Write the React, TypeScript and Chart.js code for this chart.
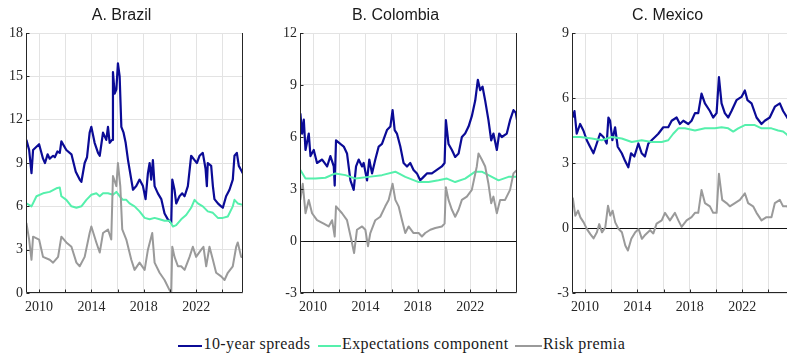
import React, { useEffect, useRef } from 'react';
import { Chart, registerables } from 'chart.js';
Chart.register(...registerables);

// ---------- shared axis data ----------
const xMin = 2009.0;
const xMax = 2025.57;
const xGridYears = [2010, 2012, 2014, 2016, 2018, 2020, 2022, 2024];
const xLabelYears = [2010, 2014, 2018, 2022];
const legendLabels = ['10-year spreads', 'Expectations component', 'Risk premia'];
const seriesColors = ['#0b0b96', '#55f0ac', '#9a9a9a'];

// ---------- A. Brazil ----------
const brYTicks = [0, 3, 6, 9, 12, 15, 18];
const brSpread = [
  [2009.03, 10.6], [2009.24, 9.9], [2009.42, 8.3], [2009.54, 9.9], [2010.0, 10.3], [2010.15, 9.8],
  [2010.3, 9.3], [2010.45, 9.0], [2010.65, 9.6], [2010.81, 9.3], [2011.07, 9.5], [2011.2, 9.4],
  [2011.4, 9.8], [2011.58, 9.7], [2011.7, 10.5], [2012.08, 9.9], [2012.47, 9.6], [2012.8, 8.4],
  [2013.1, 7.85], [2013.23, 7.7], [2013.48, 9.0], [2013.66, 9.4], [2013.86, 11.1], [2013.99, 11.5],
  [2014.24, 10.4], [2014.5, 9.7], [2014.63, 9.5], [2014.88, 11.1], [2015.13, 10.6], [2015.26, 11.5],
  [2015.39, 10.4], [2015.57, 10.6], [2015.64, 15.3], [2015.77, 13.8], [2015.9, 14.1], [2016.02, 15.9],
  [2016.15, 15.0], [2016.28, 11.5], [2016.45, 11.1], [2016.61, 10.4], [2016.79, 9.2], [2017.04, 7.85],
  [2017.17, 7.15], [2017.42, 7.4], [2017.67, 7.85], [2017.93, 7.4], [2018.13, 6.5], [2018.31, 8.3],
  [2018.44, 9.0], [2018.56, 7.85], [2018.69, 9.2], [2018.82, 7.4], [2019.07, 6.9], [2019.33, 6.5],
  [2019.58, 5.5], [2019.83, 5.1], [2020.09, 4.85], [2020.17, 7.85], [2020.34, 7.15], [2020.47, 6.2],
  [2020.72, 6.7], [2020.93, 6.9], [2021.11, 6.7], [2021.36, 7.4], [2021.61, 9.5], [2021.87, 9.2],
  [2022.05, 9.0], [2022.25, 9.5], [2022.5, 9.7], [2022.71, 8.6], [2022.81, 7.4], [2022.88, 9.0],
  [2023.14, 8.8], [2023.27, 7.4], [2023.39, 6.5], [2023.65, 6.2], [2023.9, 6.0], [2024.03, 5.9],
  [2024.28, 6.7], [2024.54, 7.15], [2024.79, 7.85], [2024.92, 9.5], [2025.1, 9.7], [2025.25, 8.8],
  [2025.43, 8.5], [2025.55, 8.3],
];
const brExpect = [
  [2009.03, 6.2], [2009.42, 6.0], [2009.8, 6.7], [2010.3, 6.9], [2010.81, 7.0], [2011.32, 7.25],
  [2011.58, 7.3], [2011.7, 6.7], [2012.08, 6.45], [2012.47, 6.0], [2012.85, 5.9], [2013.23, 6.0],
  [2013.61, 6.45], [2013.99, 6.8], [2014.37, 6.9], [2014.63, 6.7], [2014.88, 6.9], [2015.26, 6.9],
  [2015.64, 6.8], [2015.9, 7.0], [2016.15, 6.7], [2016.4, 6.45], [2016.66, 6.45], [2016.91, 6.2],
  [2017.29, 6.0], [2017.67, 5.65], [2018.06, 5.2], [2018.44, 5.1], [2018.82, 5.2], [2019.2, 5.1],
  [2019.58, 5.0], [2019.96, 5.0], [2020.22, 4.6], [2020.47, 4.7], [2020.85, 5.1], [2021.23, 5.4],
  [2021.61, 5.9], [2021.87, 6.45], [2022.12, 6.2], [2022.5, 6.0], [2022.88, 5.65], [2023.27, 5.55],
  [2023.65, 5.2], [2024.03, 5.2], [2024.41, 5.3], [2024.79, 6.0], [2024.92, 6.45], [2025.17, 6.2],
  [2025.55, 6.1],
];
const brRisk = [
  [2009.03, 4.85], [2009.24, 3.7], [2009.42, 2.3], [2009.54, 3.9], [2010.0, 3.7], [2010.3, 2.5],
  [2010.81, 2.3], [2011.07, 2.1], [2011.45, 2.5], [2011.7, 3.9], [2012.08, 3.5], [2012.47, 3.2],
  [2012.85, 2.1], [2013.1, 1.85], [2013.48, 2.5], [2013.86, 4.15], [2013.99, 4.6], [2014.37, 3.5],
  [2014.63, 2.8], [2014.88, 4.15], [2015.26, 4.4], [2015.51, 3.7], [2015.64, 8.1], [2015.9, 7.4],
  [2016.02, 9.0], [2016.2, 7.4], [2016.35, 4.4], [2016.66, 3.7], [2017.04, 2.3], [2017.29, 1.6],
  [2017.67, 2.1], [2018.06, 1.6], [2018.31, 3.0], [2018.64, 4.15], [2018.82, 2.1], [2019.2, 1.4],
  [2019.58, 0.9], [2019.96, 0.2], [2020.09, 0.0], [2020.17, 3.2], [2020.34, 2.5], [2020.6, 1.85],
  [2020.85, 1.85], [2021.11, 1.6], [2021.49, 2.5], [2021.74, 3.2], [2021.99, 2.5], [2022.38, 3.0],
  [2022.55, 3.2], [2022.76, 1.85], [2023.01, 3.2], [2023.27, 2.3], [2023.52, 1.4], [2023.9, 1.15],
  [2024.16, 0.9], [2024.41, 1.4], [2024.79, 1.85], [2025.05, 3.2], [2025.17, 3.5], [2025.43, 2.5],
  [2025.55, 2.5],
];

// ---------- B. Colombia ----------
const coYTicks = [-3, 0, 3, 6, 9, 12];
const coSpread = [
  [2009.03, 7.36], [2009.16, 6.2], [2009.29, 7.0], [2009.42, 5.25], [2009.67, 6.2], [2009.8, 4.9],
  [2010.05, 5.25], [2010.3, 4.5], [2010.69, 4.7], [2011.07, 4.3], [2011.32, 4.9], [2011.58, 4.3],
  [2011.65, 3.2], [2011.75, 5.8], [2012.08, 5.6], [2012.34, 5.45], [2012.59, 5.05], [2012.85, 3.5],
  [2013.1, 2.95], [2013.28, 4.3], [2013.48, 4.7], [2013.74, 4.3], [2013.86, 4.5], [2014.12, 3.5],
  [2014.29, 4.7], [2014.5, 3.9], [2014.75, 4.7], [2015.01, 5.45], [2015.26, 5.6], [2015.64, 6.4],
  [2015.9, 6.6], [2016.07, 7.55], [2016.23, 6.4], [2016.4, 6.2], [2016.66, 5.45], [2016.91, 4.5],
  [2017.17, 4.3], [2017.42, 4.5], [2017.67, 4.1], [2017.93, 3.9], [2018.18, 3.5], [2018.44, 3.7],
  [2018.69, 3.9], [2019.07, 3.9], [2019.45, 4.1], [2019.83, 4.3], [2020.04, 4.5], [2020.14, 6.97],
  [2020.34, 5.6], [2020.6, 5.25], [2020.85, 4.85], [2021.11, 5.05], [2021.36, 6.0], [2021.61, 6.2],
  [2021.87, 6.6], [2022.12, 7.2], [2022.38, 8.1], [2022.58, 9.3], [2022.76, 8.7], [2022.94, 8.9],
  [2023.14, 8.1], [2023.39, 6.97], [2023.6, 5.8], [2023.77, 6.2], [2024.03, 5.25], [2024.21, 6.2],
  [2024.41, 6.0], [2024.79, 6.2], [2025.04, 6.97], [2025.3, 7.55], [2025.48, 7.4], [2025.57, 6.97],
];
const coExpect = [
  [2009.03, 4.1], [2009.42, 3.6], [2010.18, 3.6], [2010.94, 3.65], [2011.7, 3.9], [2012.47, 3.8],
  [2013.23, 3.6], [2014.24, 3.7], [2015.26, 3.8], [2016.28, 4.0], [2017.04, 3.7], [2018.06, 3.4],
  [2018.82, 3.4], [2019.58, 3.5], [2020.22, 3.6], [2020.85, 3.4], [2021.61, 3.6], [2022.38, 4.0],
  [2022.88, 4.0], [2023.65, 3.7], [2024.16, 3.5], [2024.92, 3.7], [2025.57, 3.7],
];
const coRisk = [
  [2009.03, 2.37], [2009.21, 3.3], [2009.42, 1.6], [2009.67, 2.37], [2009.92, 1.6], [2010.3, 1.2],
  [2010.81, 1.0], [2011.19, 0.84], [2011.45, 1.2], [2011.65, 0.26], [2011.75, 2.0], [2012.21, 1.6],
  [2012.59, 1.2], [2012.92, 0.07], [2013.13, -0.7], [2013.35, 0.65], [2013.74, 0.84], [2013.99, 0.65],
  [2014.19, -0.3], [2014.37, 0.46], [2014.75, 1.2], [2015.13, 1.4], [2015.51, 2.0], [2015.77, 2.37],
  [2016.07, 3.3], [2016.28, 2.37], [2016.53, 2.0], [2016.79, 1.2], [2017.04, 0.46], [2017.29, 0.84],
  [2017.67, 0.46], [2018.06, 0.46], [2018.31, 0.26], [2018.56, 0.46], [2018.95, 0.65], [2019.33, 0.75],
  [2019.83, 0.84], [2020.04, 1.0], [2020.14, 3.1], [2020.34, 2.37], [2020.6, 1.8], [2020.85, 1.4],
  [2021.11, 1.8], [2021.36, 2.37], [2021.74, 2.56], [2022.12, 2.95], [2022.5, 4.3], [2022.63, 5.05],
  [2022.88, 4.7], [2023.14, 4.3], [2023.39, 3.3], [2023.6, 2.18], [2023.77, 2.56], [2024.03, 1.6],
  [2024.28, 2.37], [2024.66, 2.37], [2025.04, 2.95], [2025.3, 3.9], [2025.57, 4.1],
];

// ---------- C. Mexico ----------
const mxYTicks = [-3, 0, 3, 6, 9];
const mxSpread = [
  [2009.06, 5.1], [2009.19, 5.4], [2009.36, 4.35], [2009.62, 4.8], [2009.87, 4.5], [2010.13, 4.05],
  [2010.38, 3.75], [2010.64, 3.45], [2010.89, 3.9], [2011.14, 4.35], [2011.4, 4.2], [2011.65, 3.9],
  [2011.78, 5.1], [2011.91, 4.95], [2012.08, 4.05], [2012.29, 4.65], [2012.49, 3.75], [2012.8, 3.45],
  [2013.05, 3.1], [2013.3, 2.8], [2013.51, 3.45], [2013.76, 3.3], [2014.07, 3.9], [2014.32, 3.45],
  [2014.57, 3.3], [2014.83, 3.9], [2015.08, 4.05], [2015.34, 4.2], [2015.59, 4.35], [2015.97, 4.65],
  [2016.35, 4.65], [2016.61, 4.95], [2016.99, 5.1], [2017.24, 4.8], [2017.5, 4.95], [2017.88, 4.8],
  [2018.13, 4.95], [2018.39, 5.3], [2018.64, 5.3], [2018.89, 6.2], [2019.15, 5.75], [2019.53, 5.4],
  [2019.78, 5.1], [2020.04, 5.3], [2020.22, 6.96], [2020.42, 5.75], [2020.67, 5.3], [2020.93, 5.1],
  [2021.18, 5.4], [2021.56, 5.9], [2021.94, 6.05], [2022.2, 6.35], [2022.4, 5.9], [2022.71, 5.75],
  [2023.09, 5.1], [2023.47, 4.8], [2023.72, 4.95], [2024.1, 5.1], [2024.49, 5.6], [2024.87, 5.75],
  [2025.12, 5.4], [2025.43, 5.1], [2025.55, 5.0],
];
const mxExpect = [
  [2009.06, 4.2], [2009.62, 4.2], [2010.51, 4.13], [2011.27, 4.05], [2012.03, 4.2], [2012.8, 4.13],
  [2013.56, 3.97], [2014.32, 4.05], [2015.08, 3.97], [2015.85, 3.97], [2016.35, 4.05], [2016.73, 4.35],
  [2017.12, 4.6], [2017.62, 4.6], [2018.39, 4.5], [2019.15, 4.6], [2019.91, 4.6], [2020.42, 4.65],
  [2020.93, 4.6], [2021.31, 4.45], [2021.69, 4.6], [2022.2, 4.75], [2022.96, 4.75], [2023.47, 4.6],
  [2024.23, 4.6], [2024.74, 4.5], [2025.12, 4.45], [2025.43, 4.3], [2025.55, 4.2],
];
const mxRisk = [
  [2009.06, 1.4], [2009.25, 0.57], [2009.46, 0.8], [2009.64, 0.49], [2009.89, 0.26], [2010.14, -0.05],
  [2010.4, -0.28], [2010.65, -0.48], [2010.9, -0.2], [2011.08, 0.18], [2011.29, -0.2], [2011.54, 0.03],
  [2011.75, 1.03], [2011.92, 0.57], [2012.1, 0.8], [2012.3, 0.26], [2012.56, -0.05], [2012.81, -0.2],
  [2013.07, -0.81], [2013.27, -1.04], [2013.53, -0.5], [2013.83, -0.2], [2014.09, -0.05], [2014.34, -0.5],
  [2014.54, -0.35], [2014.96, -0.1], [2015.21, -0.25], [2015.46, 0.2], [2015.85, 0.35],
  [2016.1, 0.7], [2016.48, 0.35], [2016.86, 0.7], [2017.12, 0.35], [2017.37, 0.05], [2017.75, 0.35],
  [2018.13, 0.5], [2018.39, 0.7], [2018.64, 0.7], [2018.89, 1.75], [2019.15, 1.15], [2019.53, 1.0],
  [2019.78, 0.7], [2020.04, 0.7], [2020.22, 2.5], [2020.47, 1.3], [2020.8, 1.15], [2021.05, 1.0],
  [2021.44, 1.15], [2021.82, 1.3], [2022.2, 1.6], [2022.45, 1.15], [2022.83, 1.0], [2023.09, 0.7],
  [2023.47, 0.35], [2023.85, 0.5], [2024.23, 0.5], [2024.49, 1.15], [2024.87, 1.3], [2025.12, 1.0],
  [2025.43, 1.0], [2025.55, 0.9],
];

const panelTitles = ['A. Brazil', 'B. Colombia', 'C. Mexico'];

// ---------- layout constants ----------
const Y_AXIS_W = 26;
const PAD_R = 26;
const PLOT_W = 217;
const CANVAS_W = Y_AXIS_W + PLOT_W + PAD_R;
const CANVAS_H = 320;
const X_AXIS_H = 27;
const panelLefts = [0, 274, 546];

const toXY = (pts: number[][]) => pts.map((p) => ({ x: p[0], y: p[1] }));

const framePlugin = {
  id: 'frame',
  beforeDatasetsDraw(chart: any, _a: any, opts: any) {
    const { ctx, chartArea } = chart;
    if (opts && opts.zeroLine) {
      const y = Math.round(chart.scales.y.getPixelForValue(0)) + 0.5;
      ctx.save();
      ctx.strokeStyle = '#111111';
      ctx.lineWidth = 1;
      ctx.beginPath();
      ctx.moveTo(chartArea.left, y);
      ctx.lineTo(chartArea.right, y);
      ctx.stroke();
      ctx.restore();
    }
  },
  afterDatasetsDraw(chart: any, _a: any, opts: any) {
    const { ctx, chartArea } = chart;
    const { left, right, top, bottom } = chartArea;
    ctx.save();
    ctx.strokeStyle = '#262626';
    ctx.lineWidth = 1;
    const L = Math.round(left) + 0.5;
    const R = Math.round(right) - 0.5;
    const B = Math.round(bottom) - 0.5;
    ctx.beginPath();
    ctx.moveTo(L, Math.round(top));
    ctx.lineTo(L, B);
    ctx.lineTo(R, B);
    ctx.lineTo(R, Math.round(top));
    (opts.yTicks || []).forEach((v: number) => {
      const y = Math.round(chart.scales.y.getPixelForValue(v)) + 0.5;
      ctx.moveTo(L, y);
      ctx.lineTo(L + 3, y);
    });
    xGridYears.forEach((v) => {
      const x = Math.round(chart.scales.x.getPixelForValue(v)) + 0.5;
      ctx.moveTo(x, B);
      ctx.lineTo(x, B - 3);
    });
    ctx.stroke();
    ctx.restore();
  },
};

function Panel(props: { idx: number; series: number[][][]; yTicks: number[]; zeroLine: boolean }) {
  const ref = useRef<HTMLCanvasElement | null>(null);
  useEffect(() => {
    if (!ref.current) return;
    const { series, yTicks, zeroLine, idx } = props;
    const order = [3, 2, 1];
    const widths = [2.2, 2, 2];
    const chart = new Chart(ref.current, {
      type: 'line',
      data: {
        datasets: series.map((pts, i) => ({
          label: legendLabels[i],
          data: toXY(pts),
          borderColor: seriesColors[i],
          backgroundColor: seriesColors[i],
          borderWidth: widths[i],
          pointRadius: 0,
          tension: 0,
          fill: false,
          order: order[i],
          borderJoinStyle: 'round' as const,
        })),
      },
      options: {
        responsive: false,
        animation: false,
        layout: { padding: { left: 0, right: PAD_R, top: 0, bottom: 0 } },
        plugins: {
          legend: { display: false },
          tooltip: { enabled: false },
          title: {
            display: true,
            text: panelTitles[idx],
            color: '#1a1a1a',
            font: { family: "'Liberation Sans', Arial, sans-serif", size: 16, weight: 'normal' },
            padding: { top: 6, bottom: 7.8 },
          },
          frame: { zeroLine, yTicks },
        } as any,
        scales: {
          x: {
            type: 'linear',
            min: xMin,
            max: xMax,
            afterBuildTicks: (s: any) => {
              s.ticks = xGridYears.map((v) => ({ value: v }));
            },
            afterFit: (s: any) => {
              s.height = X_AXIS_H;
            },
            ticks: {
              autoSkip: false,
              maxRotation: 0,
              padding: 6,
              color: '#262626',
              font: { family: "'Liberation Serif', 'Times New Roman', serif", size: 14 },
              callback: (v: any) => (xLabelYears.includes(Number(v)) ? String(v) : ''),
            },
            grid: { color: '#e3e3e3', lineWidth: 1, drawTicks: false },
            border: { display: false },
          },
          y: {
            type: 'linear',
            min: yTicks[0],
            max: yTicks[yTicks.length - 1],
            afterBuildTicks: (s: any) => {
              s.ticks = yTicks.map((v) => ({ value: v }));
            },
            afterFit: (s: any) => {
              s.width = Y_AXIS_W;
            },
            ticks: {
              padding: 3,
              color: '#262626',
              font: { family: "'Liberation Serif', 'Times New Roman', serif", size: 14 },
              callback: (v: any) => String(v),
            },
            grid: { color: '#e3e3e3', lineWidth: 1, drawTicks: false },
            border: { display: false },
          },
        },
      } as any,
      plugins: [framePlugin as any],
    });
    return () => chart.destroy();
  }, []);
  return (
    <canvas
      ref={ref}
      width={CANVAS_W}
      height={CANVAS_H}
      style={{ position: 'absolute', left: panelLefts[props.idx], top: 0, width: CANVAS_W, height: CANVAS_H }}
    />
  );
}

const legendLineX = [178, 317.5, 515];
const legendLineW = [24, 23, 27];
const legendTextX = [203.5, 342, 543];

export default function App() {
  useEffect(() => {
    document.body.style.margin = '0';
  }, []);
  const legendFont = "'Liberation Serif', 'Times New Roman', serif";
  return (
    <div style={{ position: 'relative', width: 787, height: 353, overflow: 'hidden', background: '#fff' }}>
      <Panel idx={0} series={[brSpread, brExpect, brRisk]} yTicks={brYTicks} zeroLine={false} />
      <Panel idx={1} series={[coSpread, coExpect, coRisk]} yTicks={coYTicks} zeroLine={true} />
      <Panel idx={2} series={[mxSpread, mxExpect, mxRisk]} yTicks={mxYTicks} zeroLine={true} />
      {legendLabels.map((lab, i) => (
        <React.Fragment key={lab}>
          <div
            style={{
              position: 'absolute',
              left: legendLineX[i],
              top: 345,
              width: legendLineW[i],
              height: 2,
              background: seriesColors[i],
            }}
          />
          <div
            style={{
              position: 'absolute',
              left: legendTextX[i],
              top: 336,
              fontFamily: legendFont,
              fontSize: 16,
              lineHeight: '16px',
              letterSpacing: '0.4px',
              color: '#1a1a1a',
              whiteSpace: 'nowrap',
            }}
          >
            {lab}
          </div>
        </React.Fragment>
      ))}
    </div>
  );
}
